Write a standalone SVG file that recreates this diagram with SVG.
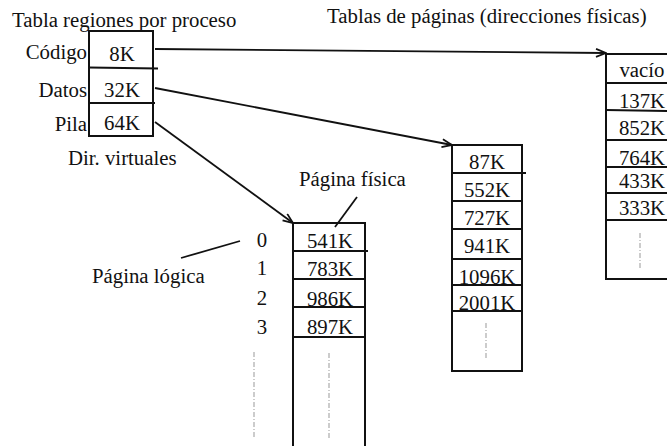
<svg xmlns="http://www.w3.org/2000/svg" width="667" height="446" viewBox="0 0 667 446">
  <style>
    text { font-family: "Liberation Serif", "Times New Roman", serif; font-size: 20.8px; fill: #111; }
    .c { text-anchor: middle; }
    .r { text-anchor: end; }
    .box { fill: none; stroke: #111; stroke-width: 2; }
    .sep { stroke: #111; stroke-width: 1.8; }
    .link { fill: none; stroke: #111; stroke-width: 1.8; }
    .dots { stroke: #999; stroke-width: 1; stroke-dasharray: 5 2 1 2; }
  </style>
  <defs>
    <marker id="open" viewBox="0 0 12 10" refX="11" refY="5" markerWidth="12" markerHeight="10" markerUnits="userSpaceOnUse" orient="auto">
      <path d="M1,1 L11,5 L1,9" fill="none" stroke="#111" stroke-width="1.8"/>
    </marker>
  </defs>

  <!-- headings -->
  <text x="12" y="27">Tabla regiones por proceso</text>
  <text x="327" y="23">Tablas de páginas (direcciones físicas)</text>

  <!-- region table -->
  <g id="regiones">
    <rect class="box" x="89" y="31" width="64" height="105"/>
    <line class="sep" x1="89" y1="67.5" x2="158" y2="68.5"/>
    <line class="sep" x1="89" y1="103" x2="155" y2="103"/>
    <text class="c" x="122" y="61">8K</text>
    <text class="c" x="122" y="97">32K</text>
    <text class="c" x="122" y="130">64K</text>
    <text class="r" x="87" y="59">Código</text>
    <text class="r" x="87" y="97">Datos</text>
    <text class="r" x="87" y="131">Pila</text>
    <text x="68" y="165">Dir. virtuales</text>
  </g>

  <!-- stack page table -->
  <g id="tabla-pila">
    <path class="box" d="M293,446 V223 H365 V446"/>
    <line class="sep" x1="293" y1="251" x2="368" y2="251"/>
    <line class="sep" x1="293" y1="279" x2="365" y2="279"/>
    <line class="sep" x1="293" y1="307" x2="365" y2="307"/>
    <line class="sep" x1="293" y1="337" x2="365" y2="337"/>
    <text class="c" x="330" y="248">541K</text>
    <text class="c" x="330" y="276">783K</text>
    <text class="c" x="330" y="306">986K</text>
    <text class="c" x="330" y="334">897K</text>
    <text class="c" x="262" y="247">0</text>
    <text class="c" x="262" y="275">1</text>
    <text class="c" x="262" y="305">2</text>
    <text class="c" x="262" y="334">3</text>
    <line class="dots" x1="254" y1="352" x2="254" y2="438"/>
    <line class="dots" x1="329" y1="353" x2="329" y2="440"/>
  </g>

  <!-- data page table -->
  <g id="tabla-datos">
    <rect class="box" x="452" y="145" width="70" height="226"/>
    <line class="sep" x1="452" y1="173" x2="526" y2="173"/>
    <line class="sep" x1="452" y1="201" x2="523" y2="201"/>
    <line class="sep" x1="452" y1="229" x2="523" y2="229"/>
    <line class="sep" x1="452" y1="259" x2="523" y2="259"/>
    <line class="sep" x1="452" y1="285" x2="523" y2="285"/>
    <line class="sep" x1="452" y1="311" x2="523" y2="311"/>
    <text class="c" x="487" y="169">87K</text>
    <text class="c" x="487" y="197">552K</text>
    <text class="c" x="487" y="225">727K</text>
    <text class="c" x="487" y="253">941K</text>
    <text class="c" x="487" y="284">1096K</text>
    <text class="c" x="487" y="310">2001K</text>
    <line class="dots" x1="486" y1="323" x2="486" y2="359"/>
  </g>

  <!-- code page table -->
  <g id="tabla-codigo">
    <rect class="box" x="606" y="54" width="80" height="225"/>
    <line class="sep" x1="606" y1="83" x2="667" y2="83"/>
    <line class="sep" x1="606" y1="110" x2="667" y2="111"/>
    <line class="sep" x1="606" y1="140" x2="667" y2="140"/>
    <line class="sep" x1="606" y1="167" x2="667" y2="167"/>
    <line class="sep" x1="606" y1="193" x2="667" y2="193"/>
    <line class="sep" x1="606" y1="220" x2="667" y2="220"/>
    <text class="c" x="642" y="77">vacío</text>
    <text class="c" x="642" y="108">137K</text>
    <text class="c" x="642" y="135">852K</text>
    <text class="c" x="642" y="165">764K</text>
    <text class="c" x="642" y="188">433K</text>
    <text class="c" x="642" y="215">333K</text>
    <line class="dots" x1="640" y1="233" x2="640" y2="268"/>
  </g>

  <!-- annotations -->
  <g id="notas">
    <text x="299" y="186">Página física</text>
    <text x="92" y="283">Página lógica</text>
  </g>

  <!-- connectors -->
  <g id="conectores">
    <line class="link" x1="155" y1="49" x2="606" y2="53" marker-end="url(#open)"/>
    <line class="link" x1="155" y1="88" x2="452" y2="145" marker-end="url(#open)"/>
    <line class="link" x1="155" y1="122" x2="293" y2="223" marker-end="url(#open)"/>
    <line class="link" x1="357" y1="197" x2="335" y2="227"/>
    <line class="link" x1="181" y1="258" x2="240" y2="241"/>
  </g>
</svg>
